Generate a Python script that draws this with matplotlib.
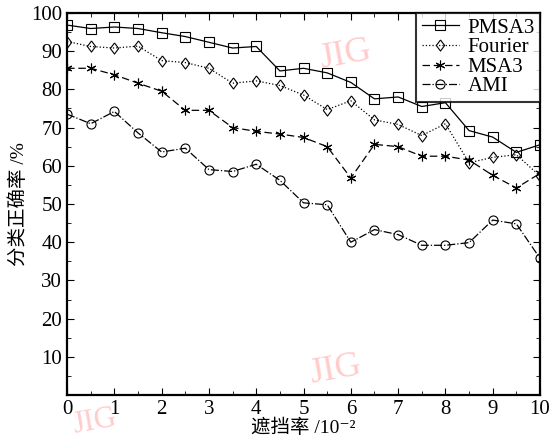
import numpy as np
import matplotlib.pyplot as plt
from matplotlib.ticker import MultipleLocator

plt.rcParams['font.family'] = ['Liberation Serif', 'Noto Sans CJK SC', 'DejaVu Serif']

occlusion = np.arange(0, 10.01, 0.5)
pmsa3 = [96.8, 95.9, 96.3, 95.9, 94.8, 93.8, 92.3, 90.8, 91.2, 84.8, 85.5,
         84.3, 81.8, 77.5, 78.0, 75.5, 76.5, 69.2, 67.5, 63.5, 65.5]
fourier = [92.5, 91.2, 90.8, 91.3, 87.5, 87.0, 85.5, 81.6, 82.2, 81.0, 78.5,
           74.7, 77.0, 72.0, 70.8, 67.9, 71.0, 60.8, 62.2, 62.9, 57.3]
msa3 = [85.5, 85.5, 83.8, 81.6, 79.5, 74.5, 74.5, 70.0, 69.0, 68.3, 67.4,
        65.0, 56.8, 65.6, 65.0, 62.5, 62.5, 61.5, 57.5, 54.2, 58.0]
ami = [73.5, 71.0, 74.2, 68.6, 63.6, 64.6, 59.0, 58.5, 60.4, 56.2, 50.3,
       49.8, 40.0, 43.3, 42.0, 39.2, 39.2, 39.9, 45.8, 44.8, 35.8]

fig = plt.figure(figsize=(5.59, 4.43), dpi=100)
ax = fig.add_axes([0.12, 0.108, 0.846, 0.863])

diamond = [(0, 1), (0.75, 0), (0, -1), (-0.75, 0), (0, 1)]
mk = dict(color="black", lw=0.9, markerfacecolor="none", markeredgewidth=0.8)
ax.plot(occlusion, pmsa3, "-", marker="s", ms=7, label="PMSA3", **mk)
ax.plot(occlusion, fourier, ":", marker=diamond, ms=8, label="Fourier", **mk)
ax.plot(occlusion, msa3, "--", marker=(6, 2, 0), ms=7, label="MSA3",
        dashes=(6, 3), **mk)
ax.plot(occlusion, ami, "-.", marker="o", ms=6.5, label="AMI", **mk)

ax.set_xlim(0, 10)
ax.set_ylim(0, 100)
ax.xaxis.set_major_locator(MultipleLocator(1))
ax.xaxis.set_minor_locator(MultipleLocator(0.5))
ax.yaxis.set_minor_locator(MultipleLocator(5))
ax.set_yticks(np.arange(10, 101, 10))
ax.tick_params(which="both", direction="in", top=True, right=True, labelsize=15)
ax.tick_params(which="major", length=5)
ax.tick_params(which="minor", length=3)
for s in ax.spines.values():
    s.set_linewidth(1.6)

ax.set_xlabel("遮挡率 /10⁻²", fontsize=14, labelpad=0)
ax.set_ylabel("分类正确率 /%", fontsize=14, labelpad=2)

leg = ax.legend(loc="upper right", fontsize=15, fancybox=False, edgecolor="black",
                borderaxespad=0, handlelength=1.8, labelspacing=0.0,
                borderpad=0.25, handletextpad=0.4)
leg.get_frame().set_linewidth(1.5)

# JIG watermarks
wm = dict(color="#ff9999", alpha=0.5, fontsize=26, rotation=10, ha="center", va="center")
fig.text(345 / 559, 1 - 55 / 443, "JIG", **wm)
fig.text(335 / 559, 1 - 370 / 443, "JIG", **wm)
fig.text(95 / 559, 1 - 422 / 443, "JIG", color="#ff9999", alpha=0.5,
         fontsize=22, rotation=10, ha="center", va="center")

fig.savefig("out.png", dpi=100, facecolor="white")
